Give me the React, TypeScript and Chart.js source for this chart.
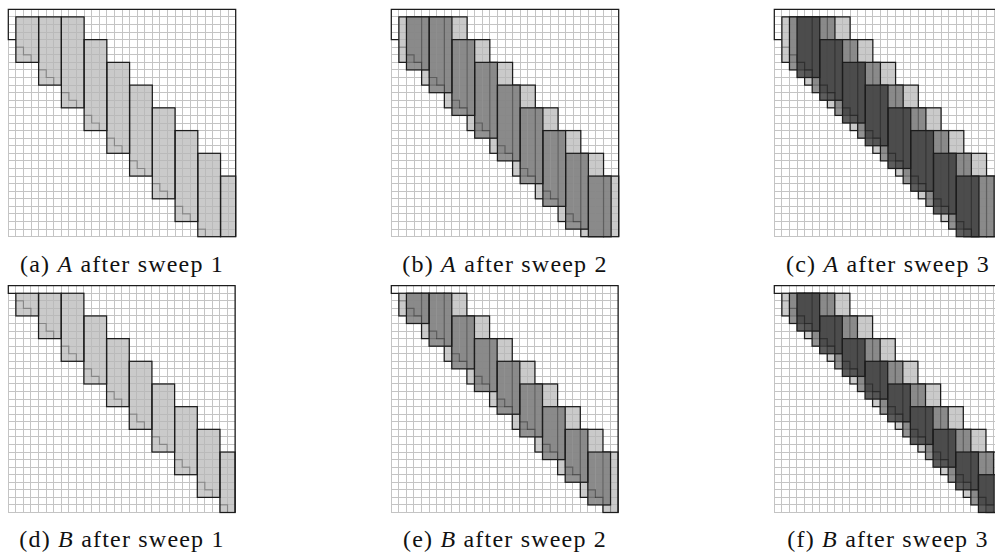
import React, { useEffect, useRef } from "react";
import { Chart, registerables } from "chart.js";

Chart.register(...registerables);

// ---- matrix size (cells per side) ----
const N = 30;

// ---- sweep 1 blocks (first column, width, first row, end row) ----
const sweep1Starts = [1, 4, 7, 10, 13, 16, 19, 22, 25, 28];
const sweep1Widths = [3, 3, 3, 3, 3, 3, 3, 3, 3, 2];
const sweep1Tops = [1, 1, 1, 4, 7, 10, 13, 16, 19, 22];
const sweep1EndsA = [7, 10, 13, 16, 19, 22, 25, 28, 30, 30];
const sweep1EndsB = [4, 7, 10, 13, 16, 19, 22, 25, 28, 30];

// ---- sweep 2 blocks ----
const sweep2Starts = [2, 5, 8, 11, 14, 17, 20, 23, 26];
const sweep2Widths = [3, 3, 3, 3, 3, 3, 3, 3, 3];
const sweep2Tops = [1, 1, 4, 7, 10, 13, 16, 19, 22];
const sweep2EndsA = [8, 11, 14, 17, 20, 23, 26, 29, 30];
const sweep2EndsB = [5, 8, 11, 14, 17, 20, 23, 26, 29];

// ---- sweep 3 blocks ----
const sweep3StartsA = [3, 6, 9, 12, 15, 18, 21, 24];
const sweep3WidthsA = [3, 3, 3, 3, 3, 3, 3, 3];
const sweep3TopsA = [1, 4, 7, 10, 13, 16, 19, 22];
const sweep3EndsA = [9, 12, 15, 18, 21, 24, 27, 30];
const sweep3StartsB = [3, 6, 9, 12, 15, 18, 21, 24, 27];
const sweep3WidthsB = [3, 3, 3, 3, 3, 3, 3, 3, 3];
const sweep3TopsB = [1, 4, 7, 10, 13, 16, 19, 22, 25];
const sweep3EndsB = [6, 9, 12, 15, 18, 21, 24, 27, 30];

// first row of the diagonal 3x3 block, relative to the block's first column
const diagOffsetA = 3;
const diagOffsetB = 0;

// outer outline (column, row) corner points
const frameA = [[1, 4], [0, 4], [0, 0], [30, 0], [30, 30]];
const frameB = [[1, 1], [0, 1], [0, 0], [30, 0], [30, 30]];

// ---- captions ----
const captionLetters = ["a", "b", "c", "d", "e", "f"];
const captionMatrices = ["A", "A", "A", "B", "B", "B"];
const captionSweeps = [1, 2, 3, 1, 2, 3];

// ---- styles ----
const sweepFills = ["rgba(181,181,181,0.72)", "rgba(128,128,128,0.86)", "rgba(66,66,66,0.86)"];
const outlineColor = "#1c1c1c";
const stairColor = "rgba(0,0,0,0.28)";
const gridColor = "#c4c4c4";

type Blocks = { starts: number[]; widths: number[]; tops: number[]; ends: number[] };

const matrixA: Blocks[] = [
  { starts: sweep1Starts, widths: sweep1Widths, tops: sweep1Tops, ends: sweep1EndsA },
  { starts: sweep2Starts, widths: sweep2Widths, tops: sweep2Tops, ends: sweep2EndsA },
  { starts: sweep3StartsA, widths: sweep3WidthsA, tops: sweep3TopsA, ends: sweep3EndsA },
];
const matrixB: Blocks[] = [
  { starts: sweep1Starts, widths: sweep1Widths, tops: sweep1Tops, ends: sweep1EndsB },
  { starts: sweep2Starts, widths: sweep2Widths, tops: sweep2Tops, ends: sweep2EndsB },
  { starts: sweep3StartsB, widths: sweep3WidthsB, tops: sweep3TopsB, ends: sweep3EndsB },
];

const colLeft = [8.3, 391.3, 774.3];
const rowTop = [9.3, 285.7];
const rowSize = [227.4, 226.8];
const captionBaseline = [272, 547];

function barsFor(b: Blocks) {
  const pts: { x: number; y: number[] }[] = [];
  b.starts.forEach((c0, i) => {
    for (let c = c0; c < c0 + b.widths[i]; c++) pts.push({ x: c + 0.5, y: [b.tops[i], b.ends[i]] });
  });
  return pts;
}

function Panel({ idx }: { idx: number }) {
  const ref = useRef<HTMLCanvasElement>(null);
  const col = idx % 3;
  const row = Math.floor(idx / 3);
  const gx = colLeft[col];
  const gy = rowTop[row];
  const size = rowSize[row];
  const cl = Math.floor(gx) - 3;
  const ct = Math.floor(gy) - 3;
  const W = 238;
  const H = 238;
  const isA = captionMatrices[idx] === "A";
  const blocks = isA ? matrixA : matrixB;
  const diagOffset = isA ? diagOffsetA : diagOffsetB;
  const frame = isA ? frameA : frameB;
  const nSweeps = captionSweeps[idx];

  useEffect(() => {
    const padL = gx - cl;
    const padT = gy - ct;
    const datasets = [] as any[];
    for (let s = 0; s < nSweeps; s++) {
      datasets.push({
        data: barsFor(blocks[s]),
        backgroundColor: sweepFills[s],
        borderWidth: 0,
        grouped: false,
        order: nSweeps - s,
        categoryPercentage: 1,
        barPercentage: 1,
        inflateAmount: 0,
      });
    }
    const outlinePlugin = {
      id: "blockOutlines",
      afterDatasetDraw(chart: any, args: any) {
        const s = args.index;
        const b = blocks[s];
        const xs = chart.scales.x;
        const ys = chart.scales.y;
        const ctx = chart.ctx;
        const a = chart.chartArea;
        ctx.save();
        ctx.beginPath();
        ctx.rect(a.left - 2, a.top - 2, a.right - a.left + 4, a.bottom - a.top + 4);
        ctx.clip();
        // staircases (lower triangle of the diagonal block)
        ctx.beginPath();
        ctx.rect(a.left, a.top, a.right - a.left, a.bottom - a.top);
        ctx.save();
        ctx.clip();
        ctx.strokeStyle = stairColor;
        ctx.lineWidth = 1.2;
        b.starts.forEach((c0, i) => {
          const d = c0 + diagOffset;
          ctx.beginPath();
          ctx.moveTo(xs.getPixelForValue(c0), ys.getPixelForValue(d + 1));
          for (let t = 1; t < b.widths[i] + (b.widths[i] < 3 ? 1 : 0); t++) {
            ctx.lineTo(xs.getPixelForValue(c0 + t), ys.getPixelForValue(d + t));
            ctx.lineTo(xs.getPixelForValue(c0 + t), ys.getPixelForValue(d + t + 1));
          }
          ctx.stroke();
        });
        ctx.restore();
        // block outlines
        ctx.strokeStyle = outlineColor;
        ctx.lineWidth = 1.25;
        b.starts.forEach((c0, i) => {
          const x0 = xs.getPixelForValue(c0);
          const x1 = xs.getPixelForValue(c0 + b.widths[i]);
          const y0 = ys.getPixelForValue(b.tops[i]);
          const y1 = ys.getPixelForValue(b.ends[i]);
          ctx.strokeRect(x0, y0, x1 - x0, y1 - y0);
        });
        ctx.restore();
      },
      afterDraw(chart: any) {
        const xs = chart.scales.x;
        const ys = chart.scales.y;
        const ctx = chart.ctx;
        ctx.save();
        ctx.strokeStyle = outlineColor;
        ctx.lineWidth = 1.25;
        ctx.beginPath();
        frame.forEach((p, i) => {
          const px = xs.getPixelForValue(p[0]);
          const py = ys.getPixelForValue(p[1]);
          if (i === 0) ctx.moveTo(px, py);
          else ctx.lineTo(px, py);
        });
        ctx.stroke();
        ctx.restore();
      },
    };
    const chart = new Chart(ref.current as HTMLCanvasElement, {
      type: "bar",
      data: { datasets },
      options: {
        animation: false,
        responsive: false,
        events: [],
        layout: { padding: { left: padL, top: padT, right: W - padL - size, bottom: H - padT - size } },
        plugins: { legend: { display: false }, tooltip: { enabled: false }, title: { display: false } },
        scales: {
          x: {
            type: "linear",
            min: 0,
            max: N,
            offset: false,
            grid: { offset: false, color: gridColor, lineWidth: 1, drawTicks: false },
            border: { display: false },
            ticks: { display: false, stepSize: 1 },
          },
          y: {
            type: "linear",
            min: 0,
            max: N,
            reverse: true,
            beginAtZero: false,
            grid: { color: gridColor, lineWidth: 1, drawTicks: false },
            border: { display: false },
            ticks: { display: false, stepSize: 1 },
          },
        },
      } as any,
      plugins: [outlinePlugin],
    });
    return () => chart.destroy();
  }, []);

  return (
    <canvas
      ref={ref}
      width={W}
      height={H}
      style={{ position: "absolute", left: cl, top: ct, width: W, height: H }}
    />
  );
}

function Caption({ idx }: { idx: number }) {
  const col = idx % 3;
  const row = Math.floor(idx / 3);
  const cx = colLeft[col] + rowSize[0] / 2;
  return (
    <div
      style={{
        position: "absolute",
        left: cx - 160,
        width: 320,
        top: captionBaseline[row] - 20,
        lineHeight: "24px",
        fontSize: 24,
        fontFamily: "'Liberation Serif', serif",
        letterSpacing: "1.2px",
        textAlign: "center",
        color: "#111",
        whiteSpace: "nowrap",
      }}
    >
      ({captionLetters[idx]}) <i>{captionMatrices[idx]}</i> after sweep {captionSweeps[idx]}
    </div>
  );
}

export default function App() {
  const ids = [0, 1, 2, 3, 4, 5];
  return (
    <div
      style={{
        position: "absolute",
        left: 0,
        top: 0,
        width: 995,
        height: 558,
        overflow: "hidden",
        background: "#fff",
      }}
    >
      {ids.map((i) => (
        <Panel key={"p" + i} idx={i} />
      ))}
      {ids.map((i) => (
        <Caption key={"c" + i} idx={i} />
      ))}
    </div>
  );
}
